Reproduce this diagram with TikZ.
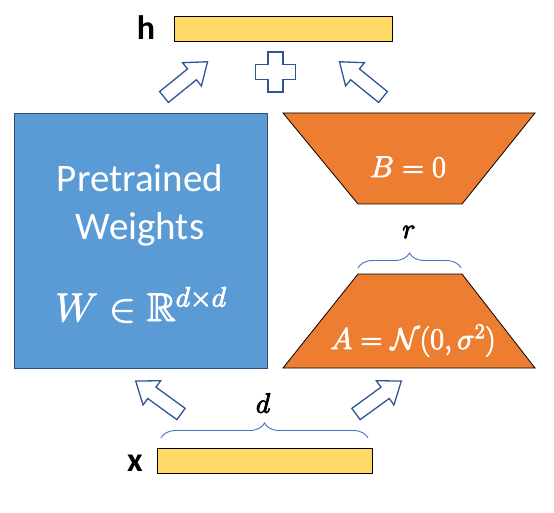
\documentclass[tikz,border=0pt]{standalone}
\usepackage{fix-cm}
\usepackage{amsmath,amssymb}
\usepackage[no-math]{fontspec}
\setmainfont{Carlito}
\usetikzlibrary{decorations.pathreplacing}
\definecolor{wblue}{HTML}{5B9BD5}
\definecolor{wborder}{HTML}{2E4F6E}
\definecolor{lorange}{HTML}{ED7D31}
\definecolor{vyellow}{HTML}{FFD966}
\definecolor{arrowblue}{HTML}{2F5597}
\definecolor{braceblue}{HTML}{4472C4}
\newcommand\heavytext[1]{\special{pdf:literal direct 2 Tr 0.9 w}#1\special{pdf:literal direct 0 Tr 0.4 w}}
\tikzset{
  vecbar/.style={draw=black, line width=0.8pt, fill=vyellow},
  lorabox/.style={draw=black, line width=0.8pt, fill=lorange},
  outlineshape/.style={draw=arrowblue, line width=1.3pt, fill=white, line join=miter},
  bracestyle/.style={draw=braceblue, line width=0.9pt, decorate, decoration={brace, amplitude=15pt}},
  vlabel/.style={font=\fontsize{34}{38}\selectfont\bfseries, inner sep=0pt},
  boxtext/.style={text=white, inner sep=0pt, font=\fontsize{39}{42}\selectfont},
  mathtext/.style={text=white, inner sep=0pt, font=\fontsize{30}{34}\selectfont},
  dimlabel/.style={inner sep=0pt, font=\fontsize{28}{32}\selectfont},
  blockarrow/.pic={
    \path[outlineshape] (0,-7) -- (36,-7) -- (36,-15) -- (56,0) -- (36,15) -- (36,7) -- (0,7) -- cycle;
  },
  plusshape/.pic={
    \path[outlineshape] (-7.5,-20) -- (7.5,-20) -- (7.5,-7.5) -- (20,-7.5) -- (20,7.5) -- (7.5,7.5)
      -- (7.5,20) -- (-7.5,20) -- (-7.5,7.5) -- (-20,7.5) -- (-20,-7.5) -- (-7.5,-7.5) -- cycle;
  }
}
\begin{document}
\begin{tikzpicture}[x=1pt,y=-1pt]
\useasboundingbox (0,0) rectangle (554,513);

% output vector h
\node[vecbar, minimum width=218pt, minimum height=25pt, inner sep=0pt] (hbar) at (283,28.5) {};
\node[vlabel, anchor=base] (hlab) at (146,40) {h};

% input vector x
\node[vecbar, minimum width=215pt, minimum height=25pt, inner sep=0pt] (xbar) at (264.5,460.5) {};
\node[vlabel, anchor=base] (xlab) at (135,471) {x};

% pretrained weights
\node[draw=wborder, line width=0.8pt, fill=wblue, minimum width=253pt, minimum height=255pt, inner sep=0pt] (W) at (140.5,240.5) {};
\node[boxtext, anchor=base] (t1) at (140,192) {Pretrained};
\node[boxtext, anchor=base] (t2) at (140,239) {Weights};
\node[mathtext, font=\fontsize{40}{44}\selectfont, anchor=base] (t3) at (141,321) {\heavytext{$W\in\mathbb{R}^{d\times d}$}};

% B trapezoid
\coordinate (b1) at (283,113);
\coordinate (b2) at (535,113);
\coordinate (b3) at (462,204);
\coordinate (b4) at (358,204);
\path[lorabox] (b1) -- (b2) -- (b3) -- (b4) -- cycle;
\node[mathtext, anchor=base] (Btext) at (408,177) {\heavytext{$B=0$}};

% A trapezoid
\coordinate (a1) at (358,274);
\coordinate (a2) at (462,274);
\coordinate (a3) at (535,368);
\coordinate (a4) at (283,368);
\path[lorabox] (a1) -- (a2) -- (a3) -- (a4) -- cycle;
\node[mathtext, anchor=base] (Atext) at (413,349) {\heavytext{$A=\mathcal{N}(0,\sigma^2)$}};

% braces
\coordinate (rb1) at (358,268);
\coordinate (rb2) at (461,268);
\path[bracestyle] (rb1) -- (rb2);
\node[dimlabel] (rlab) at (409,232) {\heavytext{$r$}};

\coordinate (db1) at (161,438);
\coordinate (db2) at (368,438);
\path[bracestyle] (db1) -- (db2);
\node[dimlabel] (dlab) at (263,403) {\heavytext{$d$}};

% plus sign
\pic at (275.5,72) {plusshape};

% block arrows
\pic[rotate=39] at (164,97) {blockarrow};
\pic[rotate=141] at (383,97) {blockarrow};
\pic[rotate=144] at (181,414) {blockarrow};
\pic[rotate=36] at (356,414) {blockarrow};
\end{tikzpicture}
\end{document}
